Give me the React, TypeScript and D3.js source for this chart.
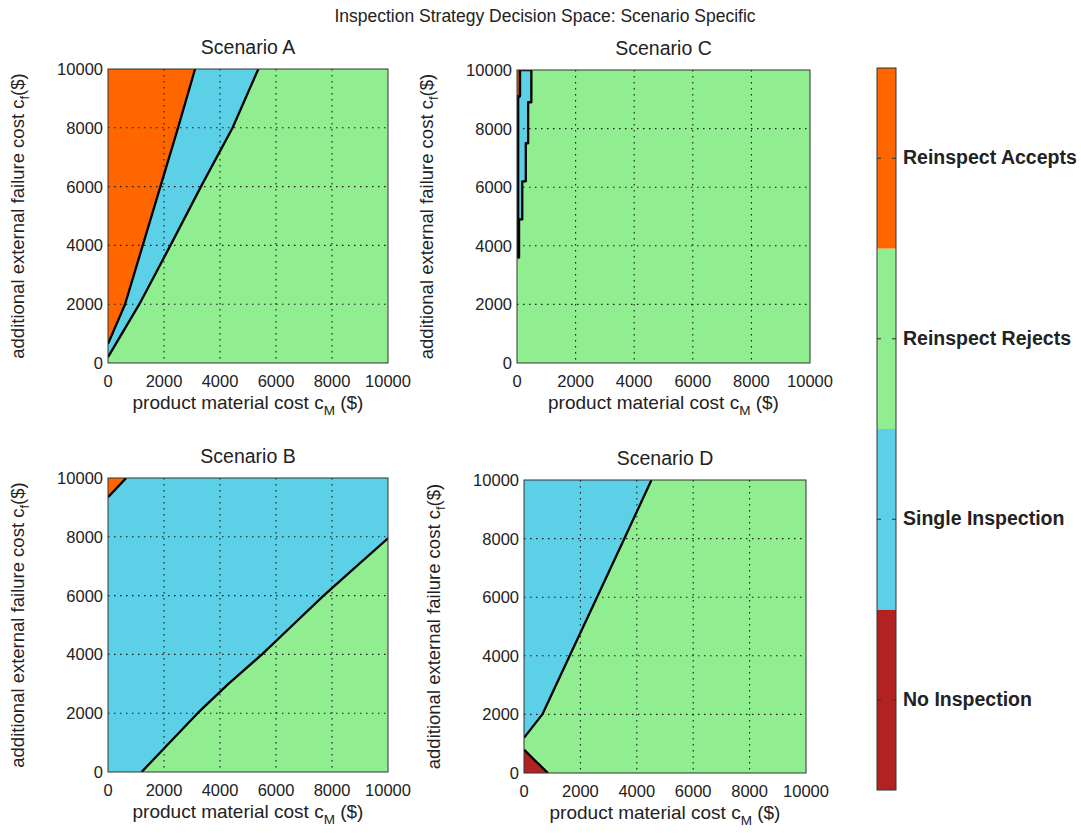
import React from "react";
import * as d3 from "d3";

// ---------- data ----------
const chartTitle = "Inspection Strategy Decision Space: Scenario Specific";
const strategyNames = ["No Inspection", "Single Inspection", "Reinspect Rejects", "Reinspect Accepts"];
const strategyColors = ["#B22222", "#5CD0E6", "#90EE90", "#FF6600"];
const axisTicks = [0, 2000, 4000, 6000, 8000, 10000];
const gridTicks = [2000, 4000, 6000, 8000];
const costDomain = [0, 10000];

// Scenario A (background: Reinspect Rejects)
const aSingleBoundary = [[0, 200], [1120, 2000], [2230, 4000], [3320, 6000], [4450, 8000], [5370, 10000]];
const aAcceptsBoundary = [[0, 650], [610, 2000], [1240, 4000], [1870, 6000], [2500, 8000], [3110, 10000]];

// Scenario C (background: Reinspect Rejects)
const cSingleRegion = [[40, 3600], [70, 3600], [70, 4900], [180, 4900], [180, 6200], [300, 6200], [300, 7500], [380, 7500], [380, 8900], [490, 8900], [490, 10000], [100, 10000], [100, 9100], [40, 9100]];
const cAcceptsRegion = [[0, 9100], [100, 9100], [100, 10000], [0, 10000]];

// Scenario B (background: Single Inspection)
const bRejectsBoundary = [[1200, 0], [2000, 800], [3200, 2000], [4300, 3000], [5500, 4000], [6600, 5000], [7700, 6000], [8700, 6850], [10000, 7950]];
const bAcceptsBoundary = [[0, 9350], [650, 10000]];

// Scenario D (background: Reinspect Rejects)
const dSingleBoundary = [[0, 1200], [650, 2000], [1620, 4000], [2590, 6000], [3560, 8000], [4520, 10000]];
const dNoneBoundary = [[0, 800], [400, 420], [850, 0]];

type Pt = number[];
type Region = { cls: number; poly: Pt[]; line: Pt[]; closed?: boolean };
type Panel = { name: string; bg: number; regions: Region[]; box: number[] };

const panels: Panel[] = [
  {
    name: "Scenario A", bg: 2, box: [108, 69, 388, 363],
    regions: [
      { cls: 1, poly: [...aSingleBoundary, [0, 10000]], line: aSingleBoundary },
      { cls: 3, poly: [...aAcceptsBoundary, [0, 10000]], line: aAcceptsBoundary },
    ],
  },
  {
    name: "Scenario C", bg: 2, box: [517, 70, 810, 363],
    regions: [
      { cls: 1, poly: cSingleRegion, line: cSingleRegion, closed: true },
      { cls: 3, poly: cAcceptsRegion, line: cAcceptsRegion.slice(0, 3) },
    ],
  },
  {
    name: "Scenario B", bg: 1, box: [108, 478, 388, 772],
    regions: [
      { cls: 2, poly: [...bRejectsBoundary, [10000, 0]], line: bRejectsBoundary },
      { cls: 3, poly: [...bAcceptsBoundary, [0, 10000]], line: bAcceptsBoundary },
    ],
  },
  {
    name: "Scenario D", bg: 2, box: [524, 480, 806, 773],
    regions: [
      { cls: 1, poly: [...dSingleBoundary, [0, 10000]], line: dSingleBoundary },
      { cls: 0, poly: [...dNoneBoundary, [0, 0]], line: dNoneBoundary },
    ],
  },
];

const FONT = "'Liberation Sans', Arial, Helvetica, sans-serif";

function PanelView({ p, idx }: { p: Panel; idx: number }) {
  const [x0, y0, x1, y1] = p.box;
  const x = d3.scaleLinear().domain(costDomain).range([x0, x1]);
  const y = d3.scaleLinear().domain(costDomain).range([y1, y0]);
  const line = d3.line<Pt>().x((d) => x(d[0])).y((d) => y(d[1]));
  const clipId = `clip-${idx}`;
  const cx = (x0 + x1) / 2;
  const cy = (y0 + y1) / 2;
  const ylabX = x0 - 84;
  return (
    <g>
      <defs>
        <clipPath id={clipId}>
          <rect x={x0} y={y0} width={x1 - x0} height={y1 - y0} />
        </clipPath>
      </defs>
      <rect x={x0} y={y0} width={x1 - x0} height={y1 - y0} fill={strategyColors[p.bg]} />
      <g clipPath={`url(#${clipId})`}>
        {p.regions.map((r, i) => (
          <path key={"f" + i} d={line(r.poly) + "Z"} fill={strategyColors[r.cls]} stroke="none" />
        ))}
        {gridTicks.map((t) => (
          <line key={"gx" + t} x1={x(t)} x2={x(t)} y1={y0} y2={y1} stroke="#1a1a1a" strokeWidth={1.1} strokeDasharray="1.5 4.5" />
        ))}
        {gridTicks.map((t) => (
          <line key={"gy" + t} y1={y(t)} y2={y(t)} x1={x0} x2={x1} stroke="#1a1a1a" strokeWidth={1.1} strokeDasharray="1.5 4.5" />
        ))}
        {p.regions.map((r, i) => (
          <path key={"l" + i} d={line(r.line) + (r.closed ? "Z" : "")} fill="none" stroke="#000" strokeWidth={2.3} strokeLinejoin="round" />
        ))}
      </g>
      <rect x={x0} y={y0} width={x1 - x0} height={y1 - y0} fill="none" stroke="#333" strokeWidth={1} />
      {axisTicks.map((t) => (
        <text key={"tx" + t} x={x(t)} y={y1 + 24} textAnchor="middle" fontSize={16.5} fontFamily={FONT} fill="#222">{t}</text>
      ))}
      {axisTicks.map((t) => (
        <text key={"ty" + t} x={x0 - 5} y={y(t) + 6} textAnchor="end" fontSize={16.5} fontFamily={FONT} fill="#222">{t}</text>
      ))}
      <text x={cx} y={y0 - 15} textAnchor="middle" fontSize={19.5} fontFamily={FONT} fill="#222">{p.name}</text>
      <text x={cx} y={y1 + 46} textAnchor="middle" fontSize={19} fontFamily={FONT} fill="#222">
        product material cost c<tspan dy={6} fontSize={13.5}>M</tspan><tspan dy={-6}> ($)</tspan>
      </text>
      <text transform={`translate(${ylabX},${cy}) rotate(-90)`} textAnchor="middle" fontSize={18.5} fontFamily={FONT} fill="#222">
        additional external failure cost c<tspan dy={5} fontSize={13}>f</tspan><tspan dy={-5}>($)</tspan>
      </text>
    </g>
  );
}

function Colorbar() {
  const cbX = 877, cbW = 19, cbTop = 68, cbBottom = 790;
  const idx = strategyNames.map((_, i) => i);
  const y = d3.scaleLinear().domain([0, strategyNames.length]).range([cbBottom, cbTop]);
  return (
    <g>
      {idx.map((i) => (
        <rect key={"c" + i} x={cbX} y={y(i + 1)} width={cbW} height={y(i) - y(i + 1)} fill={strategyColors[i]} />
      ))}
      <rect x={cbX} y={cbTop} width={cbW} height={cbBottom - cbTop} fill="none" stroke="#333" strokeWidth={1} />
      {idx.map((i) => (
        <g key={"t" + i}>
          <line x1={cbX} x2={cbX + 4} y1={y(i + 0.5)} y2={y(i + 0.5)} stroke="#333" strokeWidth={1} />
          <line x1={cbX + cbW - 4} x2={cbX + cbW} y1={y(i + 0.5)} y2={y(i + 0.5)} stroke="#333" strokeWidth={1} />
          <text x={cbX + cbW + 7} y={y(i + 0.5) + 6} fontSize={19.5} fontWeight="bold" fontFamily={FONT} fill="#222">{strategyNames[i]}</text>
        </g>
      ))}
    </g>
  );
}

export default function App() {
  return (
    <svg width={1081} height={833} style={{ position: "absolute", left: 0, top: 0, background: "#fff" }}>
      <rect x={0} y={0} width={1081} height={833} fill="#fff" />
      <text x={545} y={22} textAnchor="middle" fontSize={17.5} fontFamily={FONT} fill="#222">{chartTitle}</text>
      {panels.map((p, i) => (
        <PanelView key={p.name} p={p} idx={i} />
      ))}
      <Colorbar />
    </svg>
  );
}
